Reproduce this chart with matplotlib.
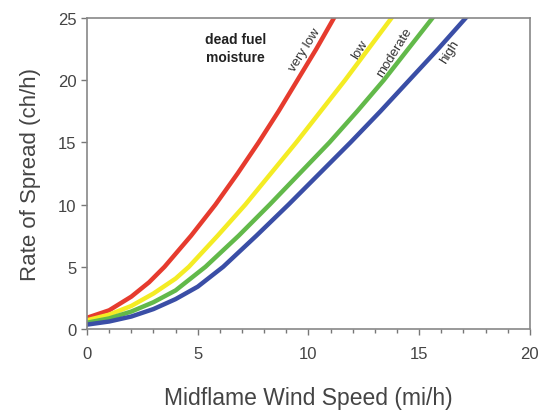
import matplotlib
matplotlib.use("Agg")
from matplotlib import pyplot as plt
from matplotlib.ticker import MultipleLocator

plt.rcParams['font.family'] = ['Liberation Sans', 'DejaVu Sans']

# puntos: velocidad del viento (mi/h) y velocidad de propagacion (ch/h)
viento_muy_bajo = [0, 1, 2, 2.8, 3.5, 4.7, 5.8, 6.8, 7.75, 8.65, 9.5, 10.35, 11.15]
ros_muy_bajo = [0.9, 1.5, 2.6, 3.75, 5, 7.5, 10, 12.5, 15, 17.5, 20, 22.5, 25]

viento_bajo = [0, 1, 2, 3, 4, 4.6, 5.9, 7.15, 8.3, 9.45, 10.55, 11.65, 12.7, 13.75]
ros_bajo = [0.7, 1.15, 1.85, 2.85, 4.05, 5, 7.5, 10, 12.5, 15, 17.5, 20, 22.5, 25]

viento_moderado = [0, 1, 2, 3, 4, 5.35, 6.85, 8.25, 9.6, 10.95, 12.2, 13.4, 14.5, 15.6]
ros_moderado = [0.5, 0.85, 1.4, 2.15, 3.1, 5, 7.5, 10, 12.5, 15, 17.5, 20, 22.5, 25]

viento_alto = [0, 1, 2, 3, 4, 5, 6.15, 7.65, 9.1, 10.5, 11.9, 13.25, 14.55, 15.85, 17.1]
ros_alto = [0.35, 0.6, 1.0, 1.6, 2.4, 3.4, 5, 7.5, 10, 12.5, 15, 17.5, 20, 22.5, 25]

etiquetas = ['very low', 'low', 'moderate', 'high']
colores = ['#e63b2e', '#f4ec24', '#62b94a', '#3a4ea6']
pos_etiquetas = [(9.85, 22.5), (12.3, 22.5), (13.9, 22.3), (16.4, 22.3)]

fig = plt.figure(figsize=(5.44, 4.14), dpi=100)
ax = fig.add_axes([0.16, 0.203, 0.814, 0.751])

series = [(viento_muy_bajo, ros_muy_bajo), (viento_bajo, ros_bajo),
          (viento_moderado, ros_moderado), (viento_alto, ros_alto)]
for (x, y), c in zip(series, colores):
    ax.plot(x, y, color=c, lw=3.2, solid_joinstyle='round')

for texto, (px, py) in zip(etiquetas, pos_etiquetas):
    ax.text(px, py, texto, rotation=58, fontsize=9.5, color='#333333',
            ha='center', va='center')

ax.text(6.7, 22.6, 'dead fuel\nmoisture', fontsize=10, fontweight='bold',
        color='#222222', ha='center', va='center', linespacing=1.3)

ax.set_xlim(0, 20)
ax.set_ylim(0, 25)
ax.xaxis.set_major_locator(MultipleLocator(5))
ax.xaxis.set_minor_locator(MultipleLocator(1))
ax.yaxis.set_major_locator(MultipleLocator(5))
ax.tick_params(axis='both', which='major', labelsize=12, colors='#777777',
               labelcolor='#444444', length=4, width=1)
ax.tick_params(axis='x', which='minor', colors='#777777', length=3, width=1)
ax.tick_params(axis='x', pad=8)
for s in ax.spines.values():
    s.set_color('#888888')
    s.set_linewidth(1.2)

ax.set_xlabel('Midflame Wind Speed (mi/h)', fontsize=16.5, color='#444444', labelpad=18)
ax.set_ylabel('Rate of Spread (ch/h)', fontsize=16, color='#444444', labelpad=12)

fig.savefig('out.png', dpi=100)
